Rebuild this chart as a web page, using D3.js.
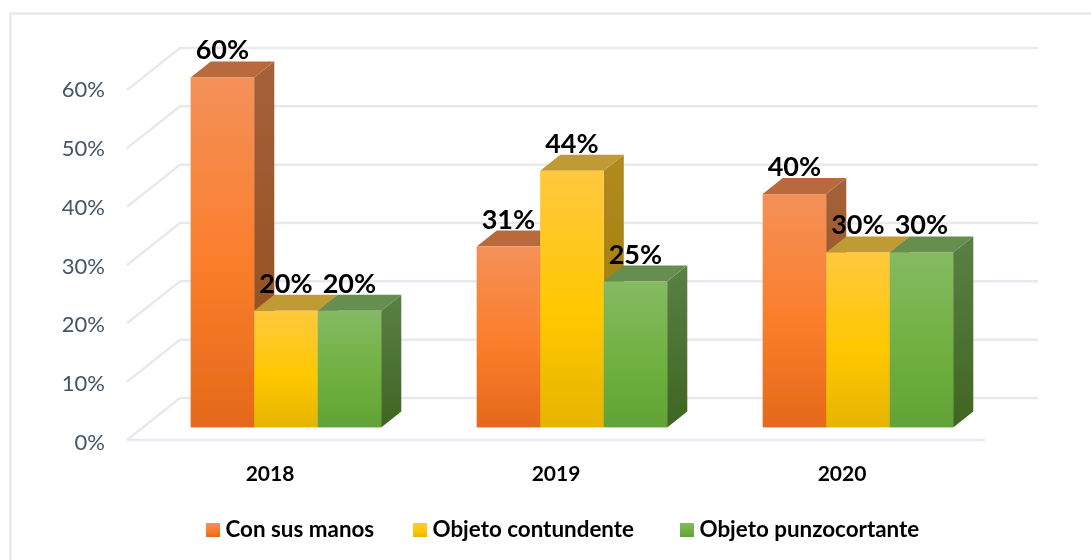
<!DOCTYPE html>
<html>
<head>
<meta charset="utf-8">
<script src="https://cdn.jsdelivr.net/npm/d3@7"></script>
<style>
  html, body { margin: 0; padding: 0; background: #fff; }
  svg { display: block; }
  text { font-family: Lato, "Open Sans", sans-serif; }
</style>
</head>
<body>
<script>
'use strict';

const years = ["2018", "2019", "2020"];
const seriesNames = ["Con sus manos", "Objeto contundente", "Objeto punzocortante"];
const manos = [60, 31, 40];
const contundente = [20, 44, 30];
const punzocortante = [20, 25, 30];
const yTicks = [0, 10, 20, 30, 40, 50, 60];

const seriesValues = [manos, contundente, punzocortante];

// top / middle / bottom of the front face, then top face and side face colours
const faces = [
  { id: "o", stops: ["#f49159", "#fb7d2a", "#e4691a"], top: "#b96a3e", side: ["#a5623a", "#8f4a18"] },
  { id: "y", stops: ["#ffc83f", "#ffc800", "#e6b400"], top: "#c09a35", side: ["#b18a20", "#997a05"] },
  { id: "g", stops: ["#85ba63", "#70b040", "#62a336"], top: "#668e50", side: ["#5a8045", "#3f6522"] }
];

const width = 1091, height = 560;

const svg = d3.select("body").append("svg")
  .attr("width", width)
  .attr("height", height);

const defs = svg.append("defs");
defs.append("filter").attr("id", "soft")
  .append("feGaussianBlur").attr("stdDeviation", 0.5);
// the reference is a slightly blurred screenshot, text gets a lighter touch
defs.append("filter").attr("id", "softText")
  .append("feGaussianBlur").attr("stdDeviation", 0.3);

faces.forEach((f) => {
  let front = defs.append("linearGradient").attr("id", "front-" + f.id)
    .attr("x1", 0).attr("y1", 0).attr("x2", 0).attr("y2", 1);
  f.stops.forEach((c, i) => front.append("stop").attr("offset", [0, 0.55, 1][i]).attr("stop-color", c));
  let side = defs.append("linearGradient").attr("id", "side-" + f.id)
    .attr("x1", 0).attr("y1", 0).attr("x2", 0).attr("y2", 1);
  f.side.forEach((c, i) => side.append("stop").attr("offset", i).attr("stop-color", c));
});

// chart frame, only the top and left edges show in the picture
svg.append("path")
  .attr("d", "M10.5,560V13.5H1091")
  .attr("fill", "none")
  .attr("stroke", "#e3e6ec")
  .attr("stroke-width", 2);

// scales for the front edge of the floor
const xScale = d3.scaleBand().domain(years).range([127, 985]);
const yScale = d3.scaleLinear().domain([0, 60]).range([440, 90]);
const yLabelScale = d3.scaleLinear().domain([0, 60]).range([450, 97]);

// 3d wall offset
const wallX = 53, wallY = -42;
// depth runs 0 (front edge) to 1 (back wall)
function project(x, value, depth) {
  return [x + depth * wallX, yScale(value) + depth * wallY];
}

// gridlines: side wall + back wall, then floor front edge
const grid = svg.append("g")
  .attr("fill", "none")
  .attr("stroke", "#e6e9ef")
  .attr("stroke-width", 2.5)
  .attr("filter", "url(#softText)");
yTicks.forEach((t) => {
  let pts = [project(127, t, 0), project(127, t, 1), project(985, t, 1)];
  grid.append("path").attr("d", d3.line()(pts));
});
grid.append("path").attr("d", d3.line()([project(127, 0, 0), project(985, 0, 0)]));

// y labels
svg.append("g").attr("filter", "url(#softText)").selectAll("text")
  .data(yTicks)
  .enter()
  .append("text")
  .attr("x", 105)
  .attr("y", (d) => yLabelScale(d))
  .attr("text-anchor", "end")
  .attr("fill", "#44546a")
  .style("font-size", "22px")
  .text((d) => d + "%");

// x labels
svg.append("g").attr("filter", "url(#softText)").selectAll("text")
  .data(years)
  .enter()
  .append("text")
  .attr("x", (d) => xScale(d) + xScale.bandwidth() / 2)
  .attr("y", 481)
  .attr("text-anchor", "middle")
  .attr("fill", "#000")
  .style("font-size", "21px")
  .style("font-weight", "bold")
  .text((d) => d);

// bars
const barWidth = 63.5, nearDepth = 0.3, farDepth = 0.68;
const barLayer = svg.append("g").attr("filter", "url(#soft)");
const labelData = [];

years.forEach((year, yi) => {
  let left = xScale(year) + xScale.bandwidth() / 2 - 1.5 * barWidth;
  seriesValues.forEach((vals, si) => {
    let v = vals[yi], f = faces[si];
    let x0 = left + si * barWidth, x1 = x0 + barWidth;
    let path = (pts) => d3.line()(pts) + "Z";
    barLayer.append("path")
      .attr("fill", "url(#side-" + f.id + ")")
      .attr("d", path([project(x1, 0, nearDepth), project(x1, 0, farDepth), project(x1, v, farDepth), project(x1, v, nearDepth)]));
    barLayer.append("path")
      .attr("fill", f.top)
      .attr("d", path([project(x0, v, nearDepth), project(x0, v, farDepth), project(x1, v, farDepth), project(x1, v, nearDepth)]));
    let a = project(x0, v, nearDepth), b = project(x1, 0, nearDepth);
    barLayer.append("rect")
      .attr("x", a[0]).attr("y", a[1])
      .attr("width", b[0] - a[0]).attr("height", b[1] - a[1])
      .attr("fill", "url(#front-" + f.id + ")");
    labelData.push({ x: (a[0] + b[0]) / 2, y: a[1] - 18, v: v });
  });
});

// value labels last so they sit over the bars
svg.append("g").attr("filter", "url(#softText)").selectAll("text")
  .data(labelData)
  .enter()
  .append("text")
  .attr("x", (d) => d.x)
  .attr("y", (d) => d.y)
  .attr("text-anchor", "middle")
  .attr("fill", "#000")
  .style("font-size", "27px")
  .style("font-weight", "bold")
  .text((d) => d.v + "%");

// legend
const legendX = [206, 413, 680];
const legend = svg.append("g");
seriesNames.forEach((name, i) => {
  legend.append("rect")
    .attr("x", legendX[i]).attr("y", 523)
    .attr("width", 14).attr("height", 14)
    .attr("fill", "url(#front-" + faces[i].id + ")");
  legend.append("text")
    .attr("x", legendX[i] + 19.5).attr("y", 537)
    .attr("fill", "#000")
    .attr("filter", "url(#softText)")
    .style("font-size", "22.4px")
    .style("font-weight", "bold")
    .text(name);
});
</script>
</body>
</html>
